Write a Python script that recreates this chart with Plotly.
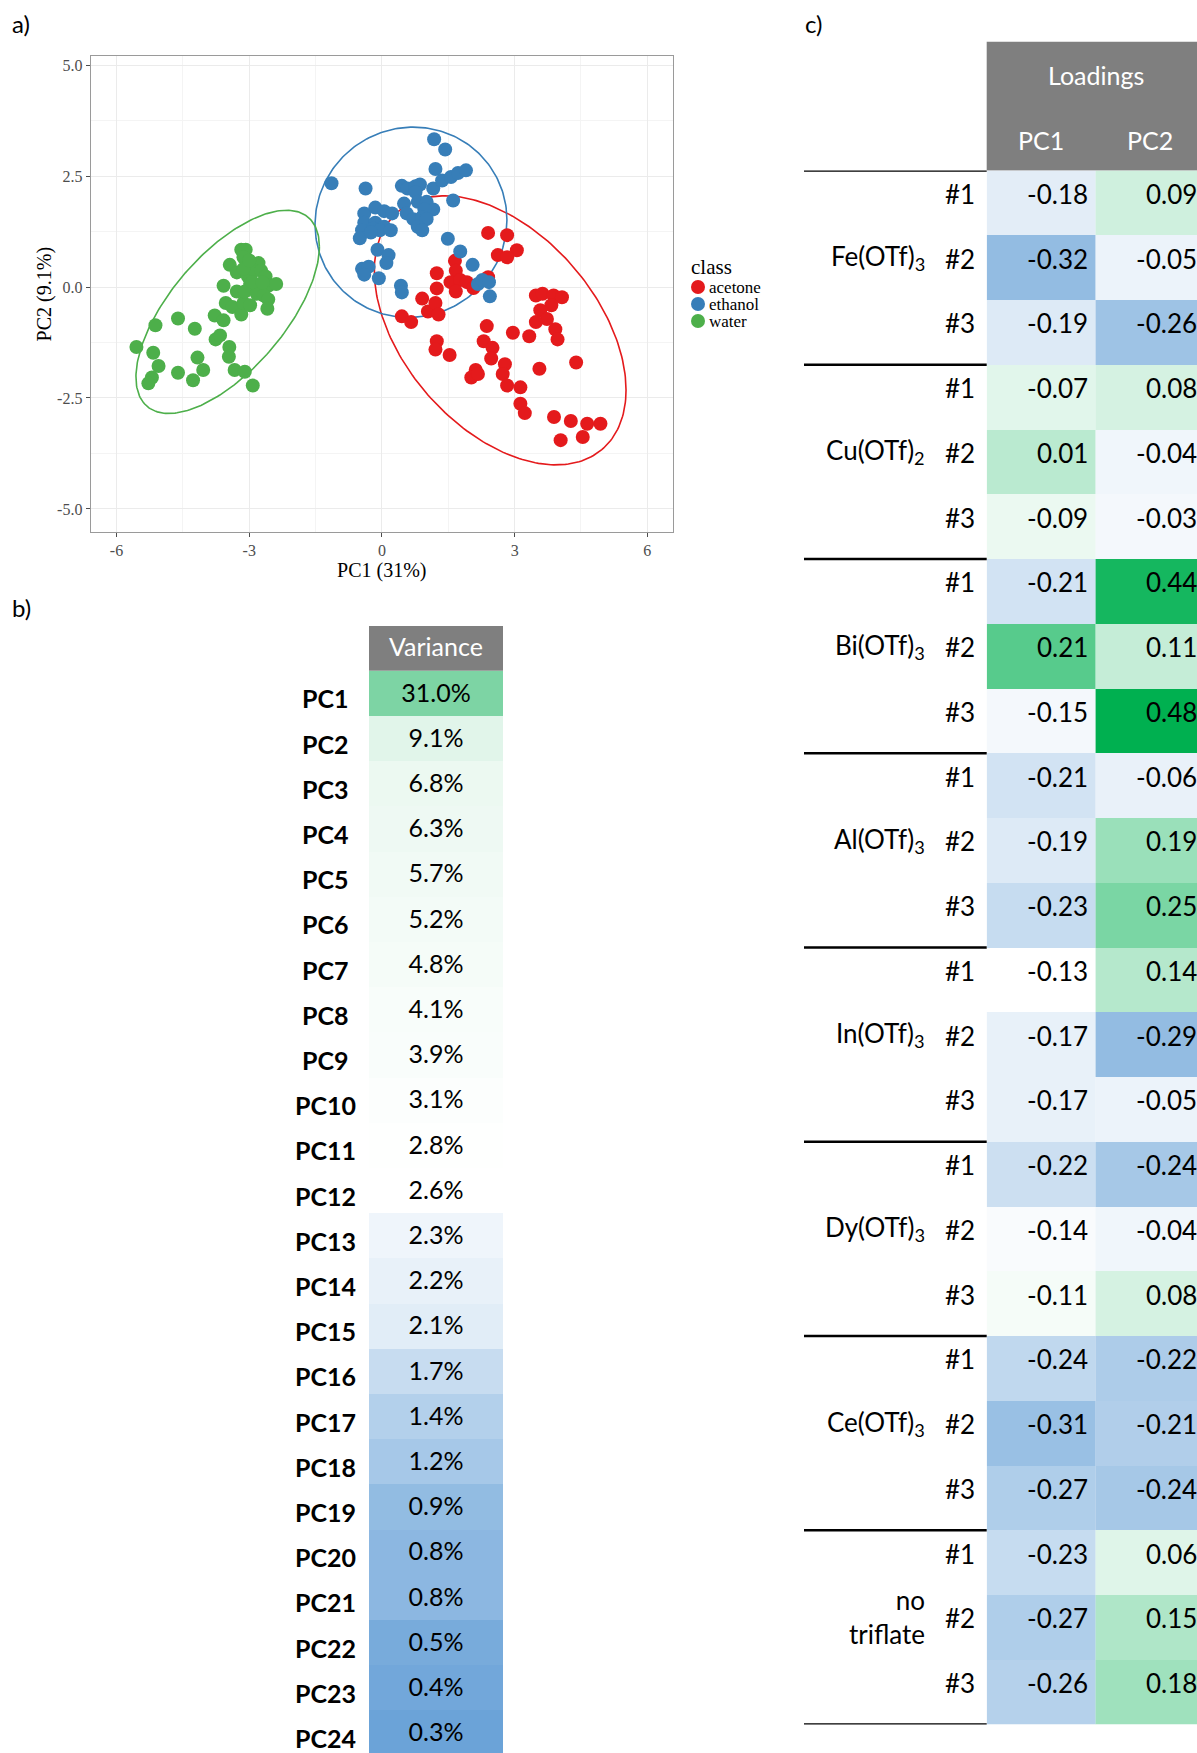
import numpy as np
import plotly.graph_objects as go

W, H = 1197, 1753

# ---------------- data: PCA scores (panel a) ----------------
classes = ["acetone", "ethanol", "water"]
class_colors = ["#E41A1C", "#377EB8", "#4DAF4A"]

acetone_pc1 = [2.40, 2.83, 3.05, 2.62, 2.83, 1.65, 1.24, 1.67, 1.55, 1.77, 1.92, 1.67, 2.07, 2.40,
               1.24, 0.91, 1.04, 1.21, 1.28, 0.45, 0.66, 2.37, 2.96, 3.33, 3.48, 3.63, 3.88, 4.07,
               3.83, 3.58, 3.73, 3.48, 3.92, 3.97, 1.24, 1.21, 1.53, 2.30, 2.50, 2.47, 2.78, 2.73,
               2.12, 2.02, 2.17, 3.56, 4.39, 2.83, 3.13, 3.13, 3.23, 3.89, 4.27, 4.04, 4.54, 4.64, 4.94]
acetone_pc2 = [1.22, 1.17, 0.83, 0.72, 0.67, 0.59, 0.31, 0.37, 0.11, 0.16, 0.11, -0.10, -0.02, 0.22,
               -0.03, -0.26, -0.55, -0.36, -0.62, -0.66, -0.79, -0.88, -1.03, -1.11, -0.19, -0.15, -0.19, -0.23,
               -0.41, -0.52, -0.72, -0.79, -0.95, -1.18, -1.22, -1.41, -1.53, -1.22, -1.37, -1.61, -1.74, -1.96,
               -1.87, -2.04, -1.96, -1.84, -1.70, -2.22, -2.26, -2.63, -2.84, -2.93, -3.02, -3.45, -3.38, -3.08, -3.08]

ethanol_pc1 = [-1.14, -0.37, 0.45, 0.58, 0.76, 0.86, 0.76, 1.18, 1.43, 1.21, 1.16, 1.36, 1.56, 1.72,
               1.90, 1.61, -0.40, -0.15, 0.05, 0.23, 0.50, 0.81, 1.01, 1.16, 0.96, 0.56, 0.71, 0.91,
               1.01, 0.81, 0.91, -0.40, -0.15, 0.05, -0.45, -0.20, -0.05, 0.20, -0.50, -0.25, 1.49,
               -0.10, 0.15, 0.10, 1.77, 2.05, -0.45, -0.30, -0.40, -0.07, 0.43, 0.45, 2.17, 2.27, 2.42, 2.44]
ethanol_pc2 = [2.34, 2.22, 2.28, 2.22, 2.27, 2.31, 2.14, 3.33, 3.10, 2.66, 2.22, 2.40, 2.48, 2.57,
               2.63, 1.95, 1.66, 1.79, 1.71, 1.66, 1.88, 1.92, 1.92, 1.75, 1.75, 1.66, 1.53, 1.58,
               1.53, 1.36, 1.28, 1.45, 1.45, 1.36, 1.28, 1.32, 1.28, 1.28, 1.10, 1.23, 1.09,
               0.84, 0.72, 0.54, 0.80, 0.50, 0.41, 0.46, 0.28, 0.20, 0.03, -0.12, 0.07, 0.16, 0.11, -0.21]

water_pc1 = [-5.55, -5.17, -5.12, -5.05, -5.20, -5.28, -4.61, -4.61, -4.23, -4.17, -4.04, -4.27, -3.76,
             -3.66, -3.78, -3.58, -3.58, -3.44, -3.45, -3.46, -3.33, -3.10, -2.92, -3.53, -3.38, -3.18,
             -3.13, -2.98, -3.18, -3.08, -3.13, -2.79, -3.28, -3.03, -2.88, -2.73, -2.63, -2.98, -2.83,
             -2.57, -2.39, -3.28, -3.10, -2.83, -2.67, -2.57, -2.59, -2.93, -3.13, -3.00, -2.70]
water_pc2 = [-1.35, -1.48, -0.86, -1.78, -2.04, -2.17, -0.71, -1.93, -0.94, -1.59, -1.87, -2.10, -1.18,
             -1.09, -0.64, -0.75, 0.03, 0.50, -1.35, -1.57, -1.87, -1.91, -2.22, -0.36, -0.45, -0.62,
             -0.36, -0.41, 0.84, 0.84, 0.67, 0.54, 0.33, 0.24, 0.37, 0.37, 0.24, 0.07, 0.03,
             0.03, 0.07, -0.10, -0.10, -0.15, -0.19, -0.28, -0.49, 0.11, 0.41, 0.60, 0.10]

x_tick_vals = [-6, -3, 0, 3, 6]
x_tick_text = ["-6", "-3", "0", "3", "6"]
y_tick_vals = [-5, -2.5, 0, 2.5, 5]
y_tick_text = ["-5.0", "-2.5", "0.0", "2.5", "5.0"]

# ---------------- data: variance (panel b) ----------------
pc_labels = ["PC%d" % i for i in range(1, 25)]
variance = [31.0, 9.1, 6.8, 6.3, 5.7, 5.2, 4.8, 4.1, 3.9, 3.1, 2.8, 2.6,
            2.3, 2.2, 2.1, 1.7, 1.4, 1.2, 0.9, 0.8, 0.8, 0.5, 0.4, 0.3]

# ---------------- data: loadings (panel c) ----------------
catalysts = ["Fe(OTf)<sub>3</sub>", "Cu(OTf)<sub>2</sub>", "Bi(OTf)<sub>3</sub>", "Al(OTf)<sub>3</sub>",
             "In(OTf)<sub>3</sub>", "Dy(OTf)<sub>3</sub>", "Ce(OTf)<sub>3</sub>", "no<br>triflate"]
replicates = ["#1", "#2", "#3"]
loading_cols = ["PC1", "PC2"]
loadings_pc1 = [-0.18, -0.32, -0.19, -0.07, 0.01, -0.09, -0.21, 0.21, -0.15, -0.21, -0.19, -0.23,
                -0.13, -0.17, -0.17, -0.22, -0.14, -0.11, -0.24, -0.31, -0.27, -0.23, -0.27, -0.26]
loadings_pc2 = [0.09, -0.05, -0.26, 0.08, -0.04, -0.03, 0.44, 0.11, 0.48, -0.06, 0.19, 0.25,
                0.14, -0.29, -0.05, -0.24, -0.04, 0.08, -0.22, -0.21, -0.24, 0.06, 0.15, 0.18]

# ---------------- styles ----------------
SERIF = "Liberation Serif, Times New Roman, serif"
SANS = "Lato, Open Sans, sans-serif"
HEADER_GRAY = "#7F7F7F"
BLUE_END = "#93BCE2"


def px_x(p):
    return p / W


def px_y(p):
    return 1 - p / H


def ellipse(xs, ys, level=0.95, n=240):
    pts = np.column_stack([xs, ys])
    mu = pts.mean(axis=0)
    cov = np.cov(pts.T)
    d2 = len(xs) - 1
    fq = (d2 / 2.0) * ((1 - level) ** (-2.0 / d2) - 1)
    r = np.sqrt(2 * fq)
    chol = np.linalg.cholesky(cov)
    t = np.linspace(0, 2 * np.pi, n)
    circ = np.vstack([np.cos(t), np.sin(t)])
    e = mu[:, None] + r * (chol @ circ)
    return e[0], e[1]


fig = go.Figure()

# ---- panel a: scatter + ellipses ----
score_sets = [(acetone_pc1, acetone_pc2), (ethanol_pc1, ethanol_pc2), (water_pc1, water_pc2)]
for name, col, (xs, ys) in zip(classes, class_colors, score_sets):
    ex, ey = ellipse(xs, ys)
    fig.add_trace(go.Scatter(x=ex, y=ey, mode="lines", line=dict(color=col, width=1.6),
                             showlegend=False, hoverinfo="skip", xaxis="x", yaxis="y"))
for name, col, (xs, ys) in zip(classes, class_colors, score_sets):
    fig.add_trace(go.Scatter(x=xs, y=ys, mode="markers", name=name, showlegend=False,
                             marker=dict(color=col, size=14), xaxis="x", yaxis="y"))

# ---- panel b: variance heatmap ----
var_mid = 2.55
vmin, vmax = min(variance), max(variance)
fmid = (var_mid - vmin) / (vmax - vmin)
fig.add_trace(go.Heatmap(
    z=[[v] for v in variance], x=[0], y=list(range(len(variance))),
    colorscale=[[0, "#6BA3D8"], [fmid, "#FFFFFF"], [1, "#7DD4A4"]],
    zmin=vmin, zmax=vmax, showscale=False, xaxis="x2", yaxis="y2",
    texttemplate="%{z:.1f}%", textfont=dict(family=SANS, size=25, color="#000000"),
    hoverinfo="skip"))

# ---- panel c: loadings heatmaps ----
load_specs = [(loadings_pc1, -0.13, "#57CB8C"), (loadings_pc2, 0.0, "#00B050")]
for ci, (vals, mid, gcol) in enumerate(load_specs):
    lo, hi = min(vals), max(vals)
    f = (mid - lo) / (hi - lo)
    fig.add_trace(go.Heatmap(
        z=[[v] for v in vals], x=[ci], y=list(range(len(vals))),
        colorscale=[[0, BLUE_END], [f, "#FFFFFF"], [1, gcol]],
        zmin=lo, zmax=hi, showscale=False, xaxis="x3", yaxis="y3", hoverinfo="skip"))

annotations = []
shapes = []


def ann(text, x, y, xref="paper", yref="paper", xa="center", ya="middle", size=25,
        color="#000000", family=SANS, **kw):
    d = dict(text=text, x=x, y=y, xref=xref, yref=yref, showarrow=False,
             xanchor=xa, yanchor=ya, font=dict(family=family, size=size, color=color))
    d.update(kw)
    annotations.append(d)


# panel labels
for txt, x, y in [("a)", 21, 24), ("b)", 21, 607), ("c)", 813, 24)]:
    ann(txt, px_x(x), px_y(y), size=24)

# legend of panel a (built from the class list)
ann("class", px_x(689), px_y(267), xa="left", family=SERIF, size=21)
for i, (name, col) in enumerate(zip(classes, class_colors)):
    cy = 287 + 17 * i
    shapes.append(dict(type="circle", xref="paper", yref="paper",
                       x0=px_x(698 - 7), x1=px_x(698 + 7), y0=px_y(cy + 7), y1=px_y(cy - 7),
                       fillcolor=col, line=dict(width=0)))
    ann(name, px_x(707), px_y(cy), xa="left", family=SERIF, size=17)

# variance header + row labels
shapes.append(dict(type="rect", xref="paper", yref="paper", x0=px_x(369), x1=px_x(503),
                   y0=px_y(670.7), y1=px_y(626), fillcolor=HEADER_GRAY, line=dict(width=0), layer="below"))
ann("Variance", px_x(436), px_y(646), color="#FFFFFF")
for i, lab in enumerate(pc_labels):
    ann("<b>%s</b>" % lab, px_x(325), i, yref="y2", yshift=-5)

# loadings header
shapes.append(dict(type="rect", xref="paper", yref="paper", x0=px_x(986.7), x1=1.01,
                   y0=px_y(170.5), y1=px_y(41.7), fillcolor=HEADER_GRAY, line=dict(width=0), layer="below"))
ann("Loadings", px_x(1096), px_y(75), color="#FFFFFF")
for ci, lab in enumerate(loading_cols):
    ann(lab, ci, px_y(140), xref="x3", color="#FFFFFF")

# loadings values (right aligned in cells)
for ci, vals in enumerate([loadings_pc1, loadings_pc2]):
    for ri, v in enumerate(vals):
        ann("%.2f" % v, ci, ri, xref="x3", yref="y3", xa="right", size=26, xshift=49, yshift=9)

# row labels (#1..#3), catalyst names, separator lines
for gi, cat in enumerate(catalysts):
    for k, rep in enumerate(replicates):
        ann(rep, px_x(977), gi * 3 + k, yref="y3", xa="right", size=26, yshift=9)
    ann(cat, px_x(927), gi * 3 + 1, yref="y3", xa="right", size=26, yshift=10, align="right")
for gi in range(len(catalysts) + 1):
    shapes.append(dict(type="line", xref="paper", yref="y3", x0=px_x(804), x1=px_x(986.7),
                       y0=gi * 3 - 0.5, y1=gi * 3 - 0.5, line=dict(color="#000000", width=2.6)))

n_var_rows_visible = (H - 670.7) / 45.2
n_load = len(loadings_pc1)

fig.update_layout(
    width=W, height=H, margin=dict(l=0, r=0, t=0, b=0),
    paper_bgcolor="#FFFFFF", plot_bgcolor="#FFFFFF",
    showlegend=False,
    xaxis=dict(domain=[px_x(90.6), px_x(673)], range=[-6.586, 6.58], anchor="y",
               tickvals=x_tick_vals, ticktext=x_tick_text,
               showgrid=True, gridcolor="#EBEBEB", gridwidth=1, zeroline=False,
               minor=dict(dtick=1.5, tick0=0, showgrid=True, gridcolor="#F4F4F4", gridwidth=1, ticks=""),
               showline=True, mirror=True, linecolor="#9A9A9A", linewidth=1,
               ticks="outside", ticklen=4, tickcolor="#4D4D4D",
               tickfont=dict(family=SERIF, size=16, color="#4D4D4D"),
               title=dict(text="PC1 (31%)", standoff=4, font=dict(family=SERIF, size=20, color="#000000"))),
    yaxis=dict(domain=[px_y(532), px_y(56.3)], range=[-5.52, 5.2], anchor="x",
               tickvals=y_tick_vals, ticktext=y_tick_text,
               showgrid=True, gridcolor="#EBEBEB", gridwidth=1, zeroline=False,
               minor=dict(dtick=1.25, tick0=0, showgrid=True, gridcolor="#F4F4F4", gridwidth=1, ticks=""),
               showline=True, mirror=True, linecolor="#9A9A9A", linewidth=1,
               ticks="outside", ticklen=4, tickcolor="#4D4D4D",
               tickfont=dict(family=SERIF, size=16, color="#4D4D4D"),
               title=dict(text="PC2 (9.1%)", standoff=0, font=dict(family=SERIF, size=20, color="#000000"))),
    xaxis2=dict(domain=[px_x(369), px_x(503)], range=[-0.5, 0.5], visible=False, anchor="y2"),
    yaxis2=dict(domain=[0, px_y(670.7)], range=[-0.5 + n_var_rows_visible, -0.5], visible=False, anchor="x2"),
    xaxis3=dict(domain=[px_x(986.7), 1], range=[-0.5, -0.5 + (W - 986.7) / 108.9], visible=False, anchor="y3"),
    yaxis3=dict(domain=[px_y(1724.5), px_y(170.5)], range=[n_load - 0.5, -0.5], visible=False, anchor="x3"),
    annotations=annotations, shapes=shapes,
)

fig.write_html("out.html", config={"displayModeBar": False},
               post_script="document.body.style.margin='0px';")
